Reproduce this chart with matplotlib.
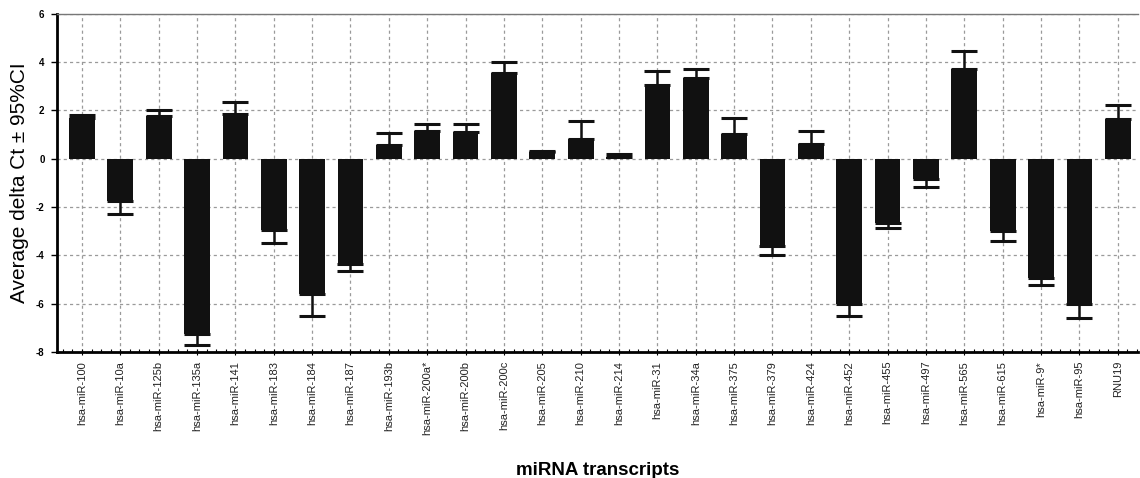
import numpy as np
import matplotlib.pyplot as plt
from matplotlib.ticker import MultipleLocator

plt.rcParams['font.family'] = ['Liberation Sans', 'DejaVu Sans']

transcripts = ['hsa-miR-100', 'hsa-miR-10a', 'hsa-miR-125b', 'hsa-miR-135a', 'hsa-miR-141',
               'hsa-miR-183', 'hsa-miR-184', 'hsa-miR-187', 'hsa-miR-193b', 'hsa-miR-200a*',
               'hsa-miR-200b', 'hsa-miR-200c', 'hsa-miR-205', 'hsa-miR-210', 'hsa-miR-214',
               'hsa-miR-31', 'hsa-miR-34a', 'hsa-miR-375', 'hsa-miR-379', 'hsa-miR-424',
               'hsa-miR-452', 'hsa-miR-455', 'hsa-miR-497', 'hsa-miR-565', 'hsa-miR-615',
               'hsa-miR-9*', 'hsa-miR-95', 'RNU19']
delta_ct = [1.68, -1.74, 1.77, -7.26, 1.85,
            -2.97, -5.60, -4.35, 0.58, 1.15,
            1.09, 3.54, 0.27, 0.81, 0.07,
            3.05, 3.34, 1.01, -3.62, 0.61,
            -6.00, -2.65, -0.83, 3.71, -2.99,
            -4.96, -6.00, 1.66]
ci95 = [0.15, 0.54, 0.26, 0.44, 0.51,
        0.51, 0.90, 0.32, 0.48, 0.30,
        0.36, 0.45, 0.03, 0.75, 0.14,
        0.60, 0.36, 0.67, 0.35, 0.55,
        0.50, 0.21, 0.36, 0.75, 0.40,
        0.29, 0.59, 0.55]
y_ticks = [-8, -6, -4, -2, 0, 2, 4, 6]

vals = np.array(delta_ct)
err = np.array(ci95)
x = np.arange(len(transcripts))
# error bar drawn only on the side away from zero
lower = np.where(vals < 0, err, 0)
upper = np.where(vals >= 0, err, 0)

fig = plt.figure(figsize=(11.4, 4.78), dpi=100)
ax = fig.add_axes([0.05, 0.264, 0.948, 0.707])

ax.grid(True, which='major', color='#9a9a9a', linestyle=(0, (2.5, 2.5)), linewidth=0.9)
ax.set_axisbelow(True)

ax.bar(x, vals, width=0.67, color='#111111', zorder=3)
ax.errorbar(x, vals, yerr=[lower, upper], fmt='none', ecolor='#111111',
            elinewidth=1.8, capsize=9.5, capthick=2.2, zorder=4)

ax.set_xlim(-0.65, 27.52)
ax.set_ylim(-8, 6)
ax.set_yticks(y_ticks)
ax.set_yticklabels([str(t) for t in y_ticks], fontsize=7, fontweight='bold')
ax.set_xticks(x)
ax.set_xticklabels(transcripts, rotation=90, fontsize=8, color='#222222')
ax.xaxis.set_minor_locator(MultipleLocator(0.25))
ax.tick_params(axis='x', which='minor', direction='in', length=2.5, width=0.8)
ax.tick_params(axis='x', which='major', direction='inout', length=5, width=0.8, pad=4)
ax.tick_params(axis='y', which='major', length=4, width=1, pad=5)

ax.spines['left'].set_linewidth(2)
ax.spines['bottom'].set_linewidth(2)
ax.spines['top'].set_color('#777777')
ax.spines['top'].set_linewidth(1)
ax.spines['right'].set_visible(False)

ax.set_ylabel('Average delta Ct \u00b1 95%CI', fontsize=15, labelpad=5)
ax.set_xlabel('miRNA transcripts', fontsize=13.5, fontweight='bold', labelpad=19)

fig.savefig('out.png', dpi=100)
